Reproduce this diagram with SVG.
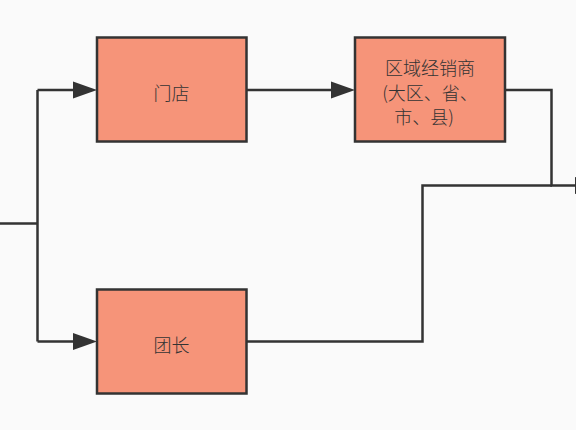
<svg xmlns="http://www.w3.org/2000/svg" width="576" height="430" viewBox="0 0 576 430">
<style>
.node rect{fill:#F69479;stroke:#333333;stroke-width:2.5}
.node text{font-family:"Microsoft YaHei","Noto Sans CJK SC",sans-serif;font-size:18px;font-weight:300;fill:#333333;text-anchor:middle}
.conn path{fill:none;stroke:#333333;stroke-width:2.5}
.conn polygon{fill:#333333}
</style>
<rect width="576" height="430" fill="#FAFAFA"/>
<g class="conn">
<path d="M0,223.5 H37.5 M37.5,90 V341.5 M37.5,90 H74 M37.5,341.5 H74"/>
<polygon points="73,81.5 97,90 73,98.5"/>
<polygon points="73,333 97,341.5 73,350"/>
<path d="M247,90 H332"/>
<polygon points="331,81.5 355,90 331,98.5"/>
<path d="M505,90 H551.5 V185.5 H576"/>
<path d="M247,341.5 H422.5 V185.5 H552"/>
<polygon points="575,177 599,185.5 575,194"/>
</g>
<g id="mendian" class="node">
<rect x="97" y="37.5" width="149.5" height="104"/>
<text x="171.5" y="99.5">门店</text>
</g>
<g id="tuanzhang" class="node">
<rect x="97" y="289.5" width="149.5" height="104"/>
<text x="171.5" y="351.5">团长</text>
</g>
<g id="jingxiaoshang" class="node">
<rect x="355" y="37.5" width="150" height="104"/>
<text x="430" y="75">区域经销商</text>
<text x="430" y="99.5">(大区、省、</text>
<text x="424" y="124">市、县)</text>
</g>
</svg>
